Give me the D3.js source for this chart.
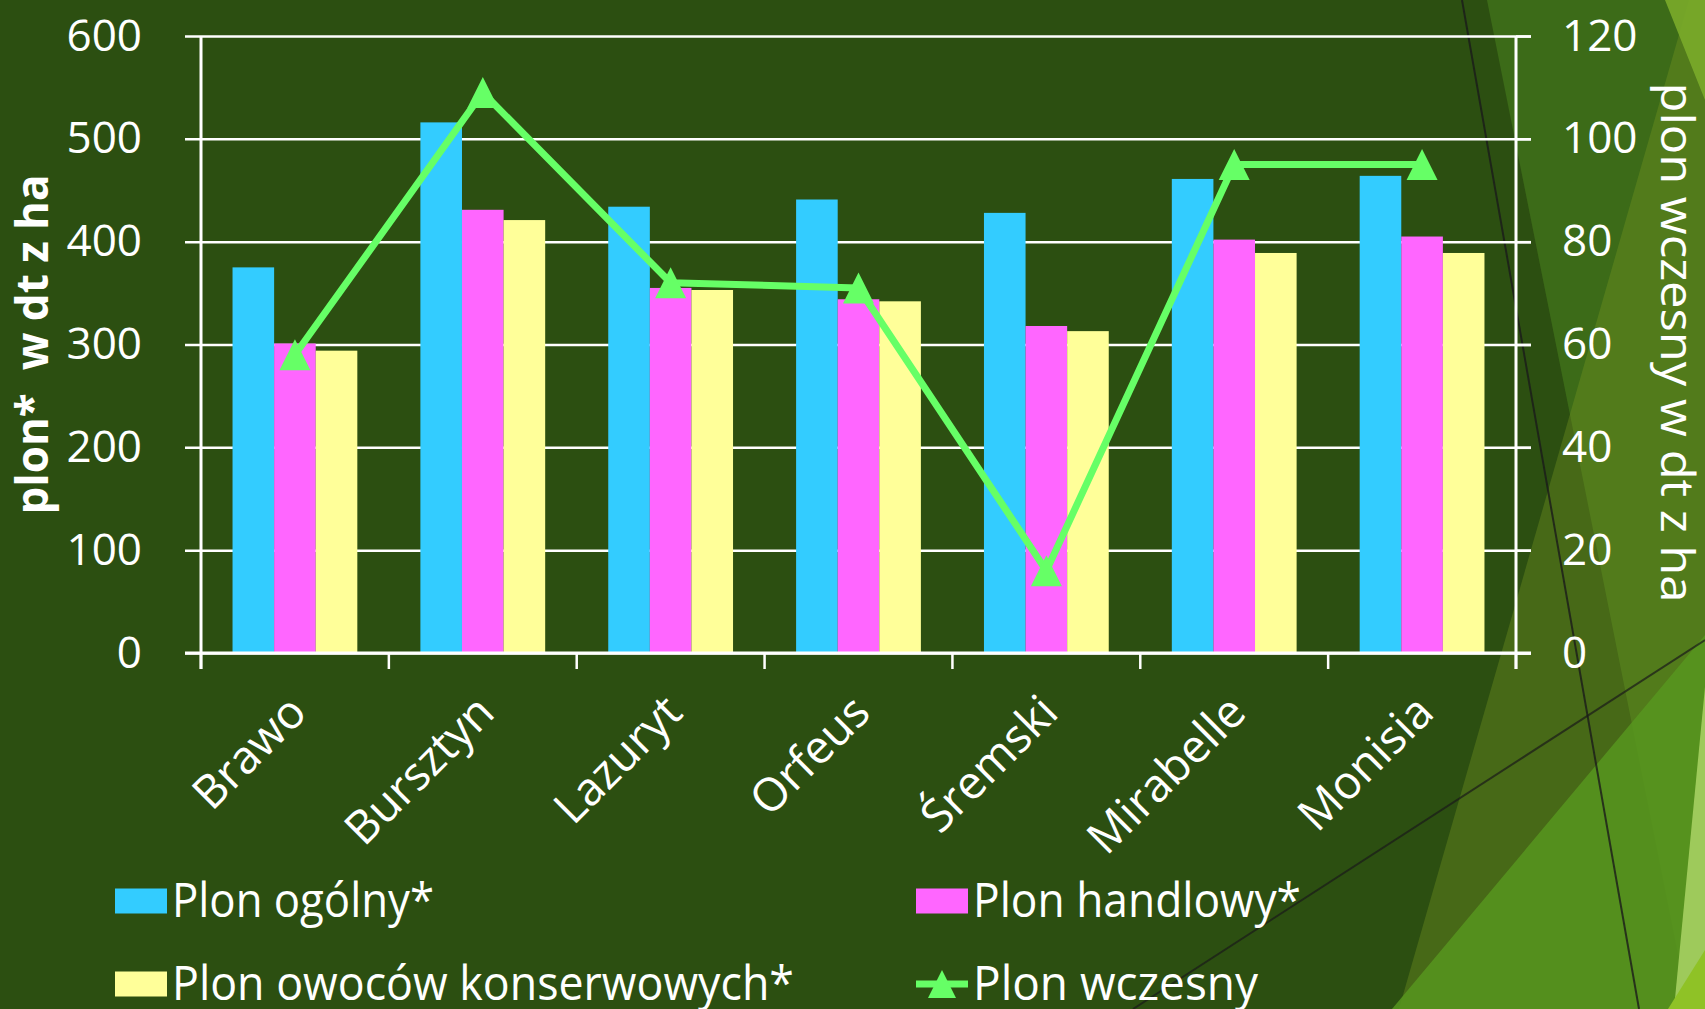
<!DOCTYPE html>
<html>
<head>
<meta charset="utf-8">
<script src="https://cdn.jsdelivr.net/npm/d3@7"></script>
<style>
  html, body { margin: 0; padding: 0; background: #2c4f11; overflow: hidden; }
  text { font-family: "Open Sans", "DejaVu Sans", sans-serif; fill: #fff; }
</style>
</head>
<body>
<div id="chart"></div>
<script>
// dane
const categories = ["Brawo", "Bursztyn", "Lazuryt", "Orfeus", "Śremski", "Mirabelle", "Monisia"];
const plonOgolny = [375, 516, 434, 441, 428, 461, 464];
const plonHandlowy = [301, 431, 355, 344, 318, 402, 405];
const plonKonserwowy = [294, 421, 353, 342, 313, 389, 389];
const plonWczesny = [58, 109, 72, 71, 16, 95, 95];
const leftTicks = [0, 100, 200, 300, 400, 500, 600];
const rightTicks = [0, 20, 40, 60, 80, 100, 120];

const barSeries = [
  { name: "Plon ogólny*", values: plonOgolny, color: "#33ccff" },
  { name: "Plon handlowy*", values: plonHandlowy, color: "#ff66ff" },
  { name: "Plon owoców konserwowych*", values: plonKonserwowy, color: "#ffff99" }
];
const lineColor = "#66ff66";

const width = 1705, height = 1009;
const plot = { left: 201, right: 1516, top: 36, bottom: 653 };

const svg = d3.select("#chart").append("svg")
  .attr("width", width)
  .attr("height", height)
  .style("display", "block");

svg.append("rect").attr("width", width).attr("height", height).attr("fill", "#2c4f11");

// dekoracja tła (motyw slajdu)
const deco = svg.append("g");
const shapes = [
  { pts: [[1487, 0], [1705, 0], [1705, 1009], [1689, 1009]], fill: "#4f8f22", op: 0.45 },
  { pts: [[1689, 0], [1705, 0], [1705, 1009], [1399, 1009]], fill: "#7a9a22", op: 0.35 },
  { pts: [[1392, 1009], [1705, 635], [1705, 1009]], fill: "#57961f", op: 0.85 },
  { pts: [[1705, 687], [1705, 1009], [1674, 1009]], fill: "#a6d062", op: 0.9 },
  { pts: [[1665, 0], [1705, 0], [1705, 100]], fill: "#7aab2a", op: 0.9 },
  { pts: [[1668, 1009], [1705, 950], [1705, 1009]], fill: "#8fc226", op: 1 }
];
deco.selectAll("polygon").data(shapes).enter().append("polygon")
  .attr("points", d => d.pts.map(p => p.join(",")).join(" "))
  .attr("fill", d => d.fill)
  .attr("fill-opacity", d => d.op);
deco.append("line").attr("x1", 1462).attr("y1", 0).attr("x2", 1639).attr("y2", 1009)
  .attr("stroke", "#1a1a1a").attr("stroke-width", 2).attr("stroke-opacity", 0.8);
deco.append("line").attr("x1", 1133).attr("y1", 1009).attr("x2", 1705).attr("y2", 640)
  .attr("stroke", "#1a1a1a").attr("stroke-width", 2).attr("stroke-opacity", 0.7);

// skale
const x0 = d3.scaleBand().domain(categories).range([plot.left, plot.right]).padding(0);
const x1 = d3.scaleBand().domain(barSeries.map(s => s.name))
  .range([0, x0.bandwidth()]).paddingInner(0).paddingOuter(0.758);
const yLeft = d3.scaleLinear().domain([0, 600]).range([plot.bottom, plot.top]);
const yRight = d3.scaleLinear().domain([0, 120]).range([plot.bottom, plot.top]);

// linie siatki + etykiety lewej osi
const gLeft = svg.append("g")
  .attr("transform", `translate(${plot.left - 16},0)`)
  .call(d3.axisLeft(yLeft).tickValues(leftTicks)
    .tickSizeInner(-(plot.right + 15 - (plot.left - 16))).tickSizeOuter(0).tickPadding(43));
gLeft.select(".domain").remove();
gLeft.selectAll(".tick line").attr("stroke", "#fff").attr("stroke-width", 2.5);
gLeft.selectAll(".tick text").attr("font-size", 44).attr("fill", "#fff")
  .style("font-family", "'Open Sans', sans-serif");

// prawa oś
const gRight = svg.append("g")
  .attr("transform", `translate(${plot.right},0)`)
  .call(d3.axisRight(yRight).tickValues(rightTicks).tickSizeInner(15).tickSizeOuter(0).tickPadding(31));
gRight.select(".domain").remove();
gRight.selectAll(".tick line").attr("stroke", "#fff").attr("stroke-width", 2.5);
gRight.selectAll(".tick text").attr("font-size", 44).attr("fill", "#fff")
  .style("font-family", "'Open Sans', sans-serif");

// słupki
const groups = svg.append("g").selectAll("g")
  .data(categories).enter().append("g")
  .attr("transform", d => `translate(${x0(d)},0)`);
groups.selectAll("rect")
  .data((c, i) => barSeries.map(s => ({ s, v: s.values[i] })))
  .enter().append("rect")
  .attr("x", d => x1(d.s.name))
  .attr("width", x1.bandwidth())
  .attr("y", d => yLeft(d.v))
  .attr("height", d => yLeft(0) - yLeft(d.v))
  .attr("fill", d => d.s.color);

// osie
const axisG = svg.append("g").attr("stroke", "#fff").attr("stroke-width", 3);
axisG.append("line").attr("x1", plot.left).attr("x2", plot.left).attr("y1", plot.top).attr("y2", plot.bottom + 16);
axisG.append("line").attr("x1", plot.right).attr("x2", plot.right).attr("y1", plot.top).attr("y2", plot.bottom + 16);
axisG.append("line").attr("x1", plot.left - 16).attr("x2", plot.right + 15).attr("y1", plot.bottom).attr("y2", plot.bottom);
const xTicks = categories.map(c => x0(c)).concat([plot.right]);
axisG.selectAll(".xt").data(xTicks).enter().append("line")
  .attr("x1", d => d).attr("x2", d => d)
  .attr("y1", plot.bottom).attr("y2", plot.bottom + 16)
  .attr("stroke-width", 2.5);

// etykiety kategorii
svg.append("g").selectAll("text").data(categories).enter().append("text")
  .attr("transform", d => `translate(${x0(d) + x0.bandwidth() / 2 + 14},${plot.bottom + 62}) rotate(-45)`)
  .attr("text-anchor", "end")
  .attr("font-size", 46)
  .text(d => d);

// linia plonu wczesnego
const tri = {
  draw(ctx, size) {
    const h = Math.sqrt(size) / 2;
    ctx.moveTo(0, -h); ctx.lineTo(h, h); ctx.lineTo(-h, h); ctx.closePath();
  }
};
const linePts = categories.map((c, i) => [x0(c) + x0.bandwidth() / 2, yRight(plonWczesny[i])]);
svg.append("path")
  .attr("d", d3.line()(linePts))
  .attr("fill", "none").attr("stroke", lineColor).attr("stroke-width", 7)
  .attr("stroke-linejoin", "round");
svg.append("g").selectAll("path").data(linePts).enter().append("path")
  .attr("transform", d => `translate(${d[0]},${d[1]})`)
  .attr("d", d3.symbol(tri, 31 * 31)())
  .attr("fill", lineColor);

// tytuły osi
svg.append("text")
  .attr("transform", `translate(48,${(plot.top + plot.bottom) / 2}) rotate(-90)`)
  .attr("text-anchor", "middle").attr("font-size", 44).attr("font-weight", "bold")
  .style("white-space", "pre")
  .text("plon*  w dt z ha");
svg.append("text")
  .attr("transform", `translate(1661,${(plot.top + plot.bottom) / 2 - 2}) rotate(90)`)
  .attr("text-anchor", "middle").attr("font-size", 45)
  .attr("textLength", 520).attr("lengthAdjust", "spacingAndGlyphs")
  .text("plon wczesny w dt z ha");

// legenda
const legendItems = [
  { name: barSeries[0].name, color: barSeries[0].color, type: "rect", x: 115, y: 901, w: 262 },
  { name: barSeries[1].name, color: barSeries[1].color, type: "rect", x: 916, y: 901, w: 328 },
  { name: barSeries[2].name, color: barSeries[2].color, type: "rect", x: 115, y: 984, w: 622 },
  { name: "Plon wczesny", color: lineColor, type: "line", x: 916, y: 984, w: 285 }
];
const leg = svg.append("g").selectAll("g").data(legendItems).enter().append("g")
  .attr("transform", d => `translate(${d.x},${d.y})`);
leg.filter(d => d.type === "rect").append("rect")
  .attr("x", 0).attr("y", -12.5).attr("width", 52).attr("height", 25)
  .attr("fill", d => d.color);
leg.filter(d => d.type === "line").append("line")
  .attr("x1", 0).attr("x2", 52).attr("y1", 0).attr("y2", 0)
  .attr("stroke", d => d.color).attr("stroke-width", 7);
leg.filter(d => d.type === "line").append("path")
  .attr("transform", "translate(26,0)")
  .attr("d", d3.symbol(tri, 28 * 28)())
  .attr("fill", d => d.color);
leg.append("text")
  .attr("x", 57).attr("y", 16)
  .attr("font-size", 48)
  .attr("textLength", d => d.w)
  .attr("lengthAdjust", "spacingAndGlyphs")
  .text(d => d.name);
</script>
</body>
</html>
